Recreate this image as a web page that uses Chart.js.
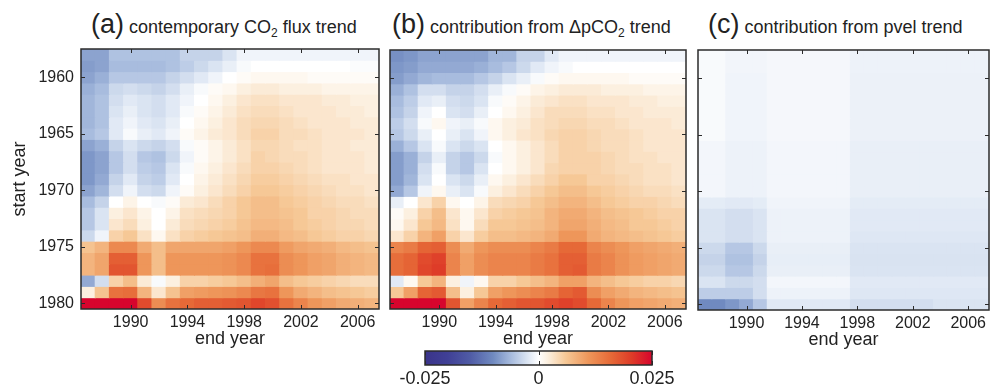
<!DOCTYPE html>
<html>
<head>
<meta charset="utf-8">
<script src="https://cdn.jsdelivr.net/npm/chart.js@4.4.0/dist/chart.umd.min.js"></script>
<style>
  body { margin: 0; background: #fff; }
  #page { position: relative; width: 991px; height: 387px; overflow: hidden; font-family: "Liberation Sans", Arial, sans-serif; color: #222; }
  canvas { position: absolute; top: 0; }
  .title { position: absolute; top: 12px; font-size: 18px; line-height: 30px; white-space: nowrap; }
  .title .p { font-size: 27px; line-height: 0; }
  .title .s { font-size: 12px; position: relative; top: 4px; }
</style>
</head>
<body>
<div id="page">
  <div class="title" style="left:91px"><span class="p">(a)</span> contemporary CO<span class="s">2</span> flux trend</div>
  <div class="title" style="left:392px"><span class="p">(b)</span> contribution from ΔpCO<span class="s">2</span> trend</div>
  <div class="title" style="left:708px"><span class="p">(c)</span> contribution from pvel trend</div>
  <canvas id="panelA" width="390" height="387" style="left:0px"></canvas>
  <canvas id="panelB" width="310" height="387" style="left:385px"></canvas>
  <canvas id="panelC" width="299" height="387" style="left:692px"></canvas>
  <canvas id="colorbar" width="320" height="47" style="left:380px; top:340px"></canvas>
</div>
<script>
// axes
const endYears = [1987, 1988, 1989, 1990, 1991, 1992, 1993, 1994, 1995, 1996, 1997,
                  1998, 1999, 2000, 2001, 2002, 2003, 2004, 2005, 2006, 2007];
const startYears = [1958, 1959, 1960, 1961, 1962, 1963, 1964, 1965, 1966, 1967, 1968, 1969,
                    1970, 1971, 1972, 1973, 1974, 1975, 1976, 1977, 1978, 1979, 1980];
const xTickYears = [1990, 1994, 1998, 2002, 2006];
const yTickYears = [1960, 1965, 1970, 1975, 1980];
const colorbarTicks = [-0.025, 0, 0.025];

// trends in units of 0.001; one row per start year, one column per end year
const fluxTrend = [
  [-8,-8,-5.5,-5.5,-5.5,-5.5,-5.5,-4,-4,-4,-2.5,-1,-1,-1,-1,-1,-1,-1,-1,-1,-1],
  [-8.5,-8,-6,-6,-6,-6,-5.5,-4.5,-3.5,-2.5,-1.5,-0.5,0,0,0,0,0,0,0,-0.3,-0.3],
  [-8,-7,-5,-5,-5,-5,-4,-3,-2,-1,0,0.5,1,1,1,1,0.5,0.5,0.5,0.5,0.5],
  [-7,-6,-3.5,-3,-3.5,-4,-3,-1.5,-0.5,0.5,1,2,2.5,2.5,2,2,2,1.5,1.5,1.5,1.5],
  [-6.5,-5.5,-3,-2,-2.5,-3,-2,-1,0,1,2,3,3.5,3.5,3,3,3,2.5,2.5,2,2],
  [-6.5,-5.5,-2.5,-1.5,-2.5,-3,-2,-0.5,0.5,1.5,2.5,3.5,4,4,3.5,3,3,3,2.5,2.5,2],
  [-6.5,-5.5,-2,-1,-2,-2.5,-1.5,0,1,2,3,4,4.5,4.5,4,3.5,3,3,3,2.5,2.5],
  [-6,-5,-2,-0.5,-1.5,-2,-1,0.5,1.5,2.5,3,4,5,5,4,4,3.5,3,3,3,2.5],
  [-8,-7,-4,-2.5,-3.5,-4,-3,-0.5,0.5,1.5,2.5,3.5,4.5,4.5,4,3.5,3.5,3,3,2.5,2.5],
  [-9,-8,-5,-3,-5,-5.5,-3.5,-1,0.5,1.5,2.5,3.5,5,4.5,4,4,3.5,3,3,3,2.5],
  [-9,-8,-5,-3,-4.5,-5,-2.5,-0.5,1,2,3,4,5,5,4.5,4,3.5,3,3,3,2.5],
  [-9,-7.5,-4,-2,-4,-4.5,-2,0,1.5,2.5,3.5,4.5,5.5,5.5,5,4.5,4,3.5,3.5,3,3],
  [-8,-6.5,-3,-1,-3,-3.5,-1,0.5,2,3,4,5,6,6,5.5,5,4.5,4,3.5,3.5,3],
  [-6,-4,0,1.5,0,-0.5,0.5,2.5,3,4,5,6,7,7,6,5.5,5,4.5,4,4,3.5],
  [-5,-2.5,2,3,1.5,0,1.5,3.5,4,4.5,5,6,7,7,6.5,6,5,5,4.5,4,4],
  [-5,-2.5,3,4,2,0,2.5,4,4.5,5,5.5,6.5,7.5,7.5,7,6,5.5,5,4.5,4.5,4],
  [-3.5,-1,5,6,3.5,1,3.5,5,5.5,6,6.5,7,8.5,8.5,7.5,7,6,5.5,5,5,4.5],
  [6.5,8,12.5,12.5,9,7,9.5,9.5,9.5,9.5,10,11,12.5,12.5,10.5,9.5,9,8.5,7.5,7,6.5],
  [8,9.5,17,17,11,7,11,11,11,11,11.5,12.5,15,15,12,11,10,9.5,8.5,8,7.5],
  [8,9.5,18,18,11,7,11,11,11,11,11.5,12.5,15,15.5,12,11,10,9.5,8.5,8,7.5],
  [-7.5,-3,5,7,2.5,-0.5,2,5,5,5.5,6,7,8.5,9.5,7,6,5.5,5,4.5,4,4],
  [2,6.5,15,15.5,8,3,6.5,10,10.5,11,11.5,12.5,14.5,15,11,9,8,7,6.5,6,5.5],
  [25,25,25,25,19,12,15,16,17,17,17.5,18,19.5,18.5,15,13,11,10,9,8.5,8]
];

const dpco2Trend = [
  [-9.5,-9,-8,-8,-8,-8,-8,-6.5,-6.5,-4,-4,-2,-1,-1,-1,-1,-1,-1,-1,-1,-1],
  [-9,-8.5,-7.5,-7.5,-7.5,-7.5,-7,-6,-5,-3.5,-2,-1,-0.5,0,0,0,0,0,0,0,0],
  [-8.5,-7.5,-6.5,-6,-6,-6,-5,-4,-2.5,-1.5,-0.5,0.5,1,1,1,1,1,0.5,0.5,0.5,0.5],
  [-7,-5.5,-3,-3,-4,-4,-3,-1.5,-0.5,0.5,1.5,2,2.5,2.5,2.5,2,2,2,1.5,1.5,1.5],
  [-6,-4.5,-2,-1.5,-3,-3.5,-2.5,-0.5,0.5,1.5,2.5,3,3.5,3.5,3,3,3,2.5,2.5,2,2],
  [-5.5,-4,-1,0,-2.5,-3,-1.5,0,1,2,3,4,4,4,3.5,3.5,3,3,2.5,2.5,2.5],
  [-4.5,-3,-0.5,1,-1,-1.5,-0.5,1,2,2.5,3.5,4,4.5,4.5,4,4,3.5,3,3,3,2.5],
  [-5,-3.5,-1.5,0,-1.5,-2.5,-1,1,2,3,3.5,4.5,5,5,4.5,4,4,3.5,3,3,3],
  [-7,-5,-2.5,-0.5,-2.5,-3.5,-2.5,0,1,2,3,4,5,5,4.5,4,4,3.5,3,3,3],
  [-8.5,-7,-4,-1.5,-4,-5,-3.5,-0.5,1,2,3,4,5,5,5,4.5,4,3.5,3.5,3,3],
  [-8.5,-7,-3,-0.5,-4,-5,-2.5,0,1,2,3,4.5,5,5,5,4.5,4,4,3.5,3.5,3],
  [-8.5,-6.5,-2.5,0,-2.5,-3.5,-1.5,1,2,3,4,5,6,6,5,5,4.5,4,3.5,3.5,3],
  [-7.5,-5,-1,1,-1.5,-2.5,-0.5,2,3,4,5,6,7,7,6,5.5,5,4.5,4,4,3.5],
  [-1.5,0,3,5,1,0,1.5,4,4.5,5,6,7,8,8,7,6,5.5,5,5,4.5,4],
  [0.5,2,5,7,3,1,3,5,5.5,6,6.5,8,9,9,8,7,6.5,6,5.5,5,5],
  [1,3,6,7.5,3.5,1,4,6,6,6.5,7,8,9.5,9.5,8.5,7.5,7,6,6,5.5,5],
  [3,5,8,10,5,3,5.5,7,7,7.5,8,9,11,11,9,8,7.5,7,6.5,6,5.5],
  [13,14,16.5,17,12,9,11,12,12,12,13,14,16,16,13,12,11,10,9.5,9,8.5],
  [15.5,16.5,19,20,13,10,12,13,13,13,14,15,17,17,14,13,11.5,10.5,10,9.5,9],
  [15.5,16.5,19.5,20.5,13,10,12,13,13,13,14,15,17,17.5,14,13,11.5,10.5,10,9.5,9],
  [-2,1,6,8,2,-1,1,5,5,6,7,8,10,10,8,7,6,5.5,5,5,4.5],
  [6,10,16.5,17.5,7,2,6,10,11,12,13,14,16.5,17.5,12,10,9,8,7.5,7,6.5],
  [25,25,25,25,18,10,13,16,17,18,18,19,20,19,16,13,11,10,9.5,9,8.5]
];

const pvelTrend = [
  [-0.5,-0.5,-0.9,-0.9,-0.9,-0.7,-0.7,-0.7,-0.7,-0.7,-0.7,-1.2,-1.2,-1.2,-1.2,-1.2,-1.2,-1.2,-1.2,-1.2,-1.2],
  [-0.5,-0.5,-0.9,-0.9,-0.9,-0.7,-0.7,-0.7,-0.7,-0.7,-0.7,-1.2,-1.2,-1.2,-1.2,-1.2,-1.2,-1.2,-1.2,-1.2,-1.2],
  [-0.5,-0.5,-1,-1,-1,-0.7,-0.7,-0.7,-0.7,-0.7,-0.7,-1.3,-1.3,-1.3,-1.3,-1.3,-1.3,-1.3,-1.3,-1.3,-1.3],
  [-0.5,-0.5,-1,-1,-1,-0.7,-0.7,-0.7,-0.7,-0.7,-0.7,-1.3,-1.3,-1.3,-1.3,-1.3,-1.3,-1.3,-1.3,-1.3,-1.3],
  [-0.5,-0.5,-1,-1,-1,-0.7,-0.7,-0.7,-0.7,-0.7,-0.7,-1.3,-1.3,-1.3,-1.3,-1.3,-1.3,-1.3,-1.3,-1.3,-1.3],
  [-0.5,-0.5,-1,-1,-1,-0.7,-0.7,-0.7,-0.7,-0.7,-0.7,-1.3,-1.3,-1.3,-1.3,-1.3,-1.3,-1.3,-1.3,-1.3,-1.3],
  [-0.5,-0.5,-1,-1,-1,-0.7,-0.7,-0.7,-0.7,-0.7,-0.7,-1.3,-1.3,-1.3,-1.3,-1.3,-1.3,-1.3,-1.3,-1.3,-1.3],
  [-0.5,-0.5,-1,-1,-1,-0.7,-0.7,-0.7,-0.7,-0.7,-0.7,-1.3,-1.3,-1.3,-1.3,-1.3,-1.3,-1.3,-1.3,-1.3,-1.3],
  [-0.8,-0.8,-1.2,-1.2,-1.2,-0.8,-0.8,-0.8,-0.8,-0.8,-0.8,-1.5,-1.5,-1.5,-1.5,-1.5,-1.5,-1.5,-1.5,-1.5,-1.5],
  [-0.8,-0.8,-1.2,-1.2,-1.2,-0.8,-0.8,-0.8,-0.8,-0.8,-0.8,-1.5,-1.5,-1.5,-1.5,-1.5,-1.5,-1.5,-1.5,-1.5,-1.5],
  [-0.8,-0.8,-1.2,-1.2,-1.2,-0.8,-0.8,-0.8,-0.8,-0.8,-0.8,-1.5,-1.5,-1.5,-1.5,-1.5,-1.5,-1.5,-1.5,-1.5,-1.5],
  [-0.8,-0.8,-1.2,-1.2,-1.2,-0.8,-0.8,-0.8,-0.8,-0.8,-0.8,-1.5,-1.5,-1.5,-1.5,-1.5,-1.5,-1.5,-1.5,-1.5,-1.5],
  [-0.8,-0.8,-1.2,-1.2,-1.2,-0.8,-0.8,-0.8,-0.8,-0.8,-0.8,-1.5,-1.5,-1.5,-1.5,-1.5,-1.5,-1.5,-1.5,-1.5,-1.5],
  [-1.8,-1.8,-2,-2,-1.8,-1,-1,-1,-1,-1,-1,-1.8,-1.8,-1.8,-1.8,-1.8,-1.8,-1.8,-1.8,-1.8,-1.8],
  [-2.5,-2.5,-3,-3,-2.5,-1.2,-1.2,-1.2,-1.2,-1.2,-1.2,-2,-2,-2,-2,-2,-2,-2,-2,-2,-2],
  [-2.5,-2.5,-3,-3,-2.5,-1.2,-1.2,-1.2,-1.2,-1.2,-1.2,-2,-2,-2,-2,-2,-2,-2,-2,-2,-2],
  [-2.5,-2.5,-3,-3,-2.5,-1.2,-1.2,-1.2,-1.2,-1.2,-1.2,-2.2,-2.2,-2.2,-2.2,-2.2,-2.2,-2.2,-2.2,-2.2,-2.2],
  [-3.5,-3.5,-5,-5,-3.5,-1.5,-1.5,-1.5,-1.5,-1.5,-1.5,-2.5,-2.5,-2.5,-2.5,-2.5,-2.5,-2.5,-2.5,-2.5,-2.5],
  [-4,-4,-5.5,-5.5,-4,-1.6,-1.6,-1.6,-1.6,-1.6,-1.6,-2.6,-2.6,-2.6,-2.6,-2.6,-2.6,-2.6,-2.6,-2.6,-2.6],
  [-3.5,-3.5,-5,-5,-3.5,-1.5,-1.5,-1.5,-1.5,-1.5,-1.5,-2.5,-2.5,-2.5,-2.5,-2.5,-2.5,-2.5,-2.5,-2.5,-2.5],
  [-2.5,-2.5,-3.5,-3.5,-3,-0.8,-0.8,-0.8,-0.8,-0.8,-0.8,-2,-2,-2,-2,-2,-2,-2,-2,-2,-2],
  [-4.5,-4.5,-4.5,-4.5,-3,-1.2,-1.2,-1.2,-1.2,-1.2,-1.2,-2.2,-2.2,-2.2,-2.2,-2.2,-2.2,-2.2,-2.2,-2.2,-2.2],
  [-10,-10,-9,-7.5,-5,-2,-2,-2,-2,-2,-2,-3,-3,-3,-3,-3,-3,-2.5,-2.5,-2.5,-2.5]
];

Chart.defaults.font.family = '"Liberation Sans", Arial, sans-serif';
Chart.defaults.color = '#222';

// blue - white - orange - red map, positions in units of 0.001
const cmapStops = [
  [-25, [58, 52, 138]], [-20, [64, 64, 150]], [-15, [80, 92, 166]],
  [-10, [112, 138, 192]], [-6, [168, 188, 222]], [-2.5, [218, 228, 242]],
  [0, [255, 255, 255]], [2, [252, 240, 224]], [6, [246, 200, 150]],
  [11, [238, 150, 90]], [16, [230, 105, 55]], [20.5, [222, 60, 40]], [25, [215, 5, 45]]
];

function colorFor(v) {
  v = Math.max(-25, Math.min(25, v));
  for (let k = 1; k < cmapStops.length; k++) {
    const [v1, c1] = cmapStops[k];
    if (v <= v1) {
      const [v0, c0] = cmapStops[k - 1];
      const t = (v - v0) / (v1 - v0);
      const c = c0.map((a, i) => Math.round(a + (c1[i] - a) * t));
      return `rgb(${c[0]},${c[1]},${c[2]})`;
    }
  }
  return 'rgb(215,5,45)';
}

// frame box with inward tick marks, matlab style
const framePlugin = {
  id: 'frame',
  afterDraw(chart) {
    const {ctx, chartArea: a} = chart;
    const {x, y} = chart.scales;
    ctx.save();
    ctx.strokeStyle = '#2b2b2b';
    ctx.lineWidth = 1;
    ctx.beginPath();
    x.ticks.forEach(tk => {
      const px = Math.round(x.getPixelForValue(tk.value)) + 0.5;
      ctx.moveTo(px, a.top); ctx.lineTo(px, a.top + 4);
      ctx.moveTo(px, a.bottom); ctx.lineTo(px, a.bottom - 4);
    });
    if (y.type === 'linear') {
      y.ticks.forEach(tk => {
        const py = Math.round(y.getPixelForValue(tk.value)) + 0.5;
        ctx.moveTo(a.left, py); ctx.lineTo(a.left + 4, py);
        ctx.moveTo(a.right, py); ctx.lineTo(a.right - 4, py);
      });
    }
    ctx.stroke();
    ctx.lineWidth = 1.5;
    ctx.strokeRect(a.left, a.top, a.right - a.left, a.bottom - a.top);
    ctx.restore();
  }
};

function heatPanel(id, values, opts) {
  const datasets = startYears.map((s, i) => ({
    data: endYears.map(e => ({x: e, y: [s - 0.5, s + 0.5]})),
    backgroundColor: values[i].map(colorFor),
    grouped: false,
    barPercentage: 1,
    categoryPercentage: 1,
    borderWidth: 0,
    inflateAmount: 0.5
  }));

  return new Chart(document.getElementById(id), {
    type: 'bar',
    data: {datasets},
    options: {
      responsive: false,
      animation: false,
      layout: {padding: opts.padding},
      plugins: {legend: {display: false}, tooltip: {enabled: false}},
      scales: {
        x: {
          type: 'linear',
          offset: false,
          min: 1986.5,
          max: 2007.5,
          afterBuildTicks: s => { s.ticks = xTickYears.map(v => ({value: v})); },
          afterFit: s => { s.height = 50; },
          grid: {display: false, drawTicks: false},
          border: {display: false},
          ticks: {font: {size: 16}, padding: 4, maxRotation: 0, autoSkip: false, callback: v => String(v)},
          title: {display: true, text: 'end year', font: {size: 18}, padding: {top: 0, bottom: 9}}
        },
        y: {
          type: 'linear',
          reverse: true,
          min: 1957.5,
          max: 1980.5,
          afterBuildTicks: s => { s.ticks = yTickYears.map(v => ({value: v})); },
          afterFit: s => { s.width = opts.yWidth; },
          grid: {display: false, drawTicks: false},
          border: {display: false},
          ticks: {display: opts.showY, font: {size: 16}, padding: 7, callback: v => String(v)},
          title: {display: opts.showY, text: 'start year', font: {size: 18}, padding: {top: 9, bottom: 0}}
        }
      }
    },
    plugins: [framePlugin]
  });
}

heatPanel('panelA', fluxTrend, {padding: {top: 49, bottom: 28, left: 0, right: 11}, yWidth: 81, showY: true});
heatPanel('panelB', dpco2Trend, {padding: {top: 50, bottom: 28, left: 5, right: 9}, yWidth: 0, showY: false});
heatPanel('panelC', pvelTrend, {padding: {top: 50, bottom: 27, left: 6, right: 2}, yWidth: 0, showY: false});

// colorbar
function barGradient(chart) {
  const a = chart.chartArea;
  if (!a) return null;
  const g = chart.ctx.createLinearGradient(a.left, 0, a.right, 0);
  cmapStops.forEach(([v, c]) => g.addColorStop((v + 25) / 50, `rgb(${c[0]},${c[1]},${c[2]})`));
  return g;
}

new Chart(document.getElementById('colorbar'), {
  type: 'bar',
  data: {
    labels: [''],
    datasets: [{
      data: [[colorbarTicks[0], colorbarTicks[colorbarTicks.length - 1]]],
      backgroundColor: c => barGradient(c.chart),
      barPercentage: 1,
      categoryPercentage: 1,
      borderWidth: 0
    }]
  },
  options: {
    indexAxis: 'y',
    responsive: false,
    animation: false,
    layout: {padding: {top: 11, bottom: 0, left: 45, right: 48}},
    plugins: {legend: {display: false}, tooltip: {enabled: false}},
    scales: {
      x: {
        type: 'linear',
        min: colorbarTicks[0],
        max: colorbarTicks[colorbarTicks.length - 1],
        afterBuildTicks: s => { s.ticks = colorbarTicks.map(v => ({value: v})); },
        afterFit: s => { s.height = 22; s.paddingLeft = 0; s.paddingRight = 0; },
        grid: {display: false, drawTicks: false},
        border: {display: false},
        ticks: {font: {size: 18}, padding: 3, maxRotation: 0, autoSkip: false, callback: v => v === 0 ? '0' : String(v)}
      },
      y: {display: false}
    }
  },
  plugins: [framePlugin]
});
</script>
</body>
</html>
